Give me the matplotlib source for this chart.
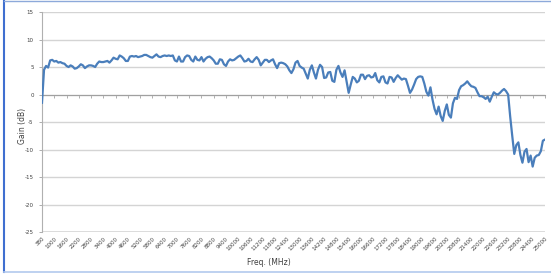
import matplotlib
matplotlib.use("Agg")
import matplotlib.pyplot as plt
from matplotlib.lines import Line2D

# frequency categories (MHz): first point 380, then 500..25000 in 100 MHz steps
freqs = [380] + list(range(500, 25001, 100))

# gain readings (dB), one per frequency
gain = [
    -1.5, 4.5, 5.2, 4.9, 6.2, 6.3, 6.0, 6.1, 5.8, 5.9,
    5.7, 5.6, 5.2, 5.0, 5.3, 5.1, 4.7, 4.8, 5.1, 5.5,
    5.3, 4.8, 5.1, 5.3, 5.3, 5.2, 5.0, 5.6, 6.0, 5.9,
    5.9, 6.0, 6.1, 5.8, 6.2, 6.7, 6.5, 6.4, 7.1, 6.9,
    6.6, 6.1, 6.1, 6.9, 7.0, 6.9, 7.0, 6.8, 6.9, 7.0,
    7.2, 7.2, 7.0, 6.8, 6.7, 7.0, 7.3, 6.9, 6.8, 7.0,
    7.1, 7.0, 7.1, 7.0, 7.1, 6.2, 6.0, 6.9, 6.0, 6.0,
    6.8, 7.1, 7.0, 6.3, 6.0, 6.9, 6.3, 6.2, 6.8, 6.0,
    6.5, 6.8, 6.9, 6.6, 6.2, 5.6, 5.6, 6.4, 6.3, 5.5,
    5.2, 6.0, 6.4, 6.2, 6.3, 6.6, 6.9, 7.1, 6.6, 6.0,
    6.1, 6.5, 6.0, 5.9, 6.4, 6.8, 6.3, 5.3, 5.8, 6.3,
    6.3, 5.9, 6.2, 6.4, 5.5, 4.8, 5.7, 5.8, 5.7, 5.5,
    5.1, 4.4, 3.9, 4.6, 5.8, 6.1, 5.2, 4.9, 4.7, 3.8,
    2.9, 4.5, 5.3, 4.0, 2.9, 4.5, 5.4, 5.0, 3.0, 3.1,
    4.0, 4.1, 2.5, 2.3, 4.5, 5.2, 4.0, 3.2, 4.4, 2.3,
    0.3, 1.8, 3.2, 2.9, 2.2, 2.5, 3.6, 3.6, 2.8, 3.4,
    3.5, 3.1, 3.2, 3.9, 2.6, 2.2, 3.2, 3.3, 2.2, 2.0,
    3.2, 3.1, 2.3, 3.0, 3.5, 3.1, 2.7, 2.9, 2.8, 1.6,
    0.3, 0.9, 1.8, 2.8, 3.2, 3.3, 3.2, 2.0, 0.5, -0.2,
    1.3, -0.9, -2.6, -3.6, -2.2, -3.9, -4.8, -3.0, -1.8, -3.7,
    -4.2, -1.6, -0.6, -0.8, 0.8, 1.5, 1.7, 2.0, 2.4, 1.9,
    1.5, 1.4, 1.2, 0.4, -0.3, -0.3, -0.5, -0.8, -0.4, -1.3,
    -0.4, 0.4, 0.1, 0.0, 0.3, 0.7, 1.0, 0.6, 0.0, -4.0,
    -7.5, -10.8, -9.2, -8.7, -11.0, -12.4, -10.4, -9.9, -12.3, -11.1,
    -13.1, -11.5, -11.1, -11.0, -10.3, -8.4, -8.2,
]

y_ticks = list(range(-25, 16, 5))
label_step = 6

idx = list(range(len(freqs)))

fig = plt.figure(figsize=(5.51, 2.8), dpi=100)
ax = fig.add_axes([0.0762, 0.1714, 0.9128, 0.7857])

ax.plot(idx, gain, color="#4a7ebb", lw=1.6, solid_joinstyle="round", zorder=3)

ax.set_xlim(0, len(freqs) - 1)
ax.set_ylim(-25, 15)
ax.set_yticks(y_ticks)
ax.set_yticklabels([str(v) for v in y_ticks], fontsize=4, color="#404040")
ax.yaxis.grid(True, color="#d4d4d4", lw=1.0)
ax.set_axisbelow(True)
ax.tick_params(axis="y", length=2, width=0.6, color="#a0a0a0", pad=4)

# category axis crosses at 0 with tick marks, labels sit at the bottom
ax.spines["bottom"].set_position(("data", 0))
ax.spines["bottom"].set_color("#a0a0a0")
ax.spines["bottom"].set_linewidth(0.8)
ax.spines["left"].set_color("#b0b0b0")
ax.spines["left"].set_linewidth(0.8)
ax.spines["top"].set_visible(False)
ax.spines["right"].set_visible(False)
ax.set_xticks(idx[::label_step])
ax.tick_params(axis="x", length=2.5, width=0.6, color="#a0a0a0", labelbottom=False)

ax.axhline(-25, color="#d9d9d9", lw=2.0, zorder=1)

sec = ax.secondary_xaxis(0)
sec.set_xticks(idx[::label_step])
sec.set_xticklabels([str(f) for f in freqs[::label_step]], rotation=45,
                    ha="right", va="top", fontsize=4, color="#404040",
                    rotation_mode="anchor")
sec.tick_params(axis="x", length=0, pad=3)
sec.spines["bottom"].set_visible(False)

ax.set_ylabel("Gain (dB)", fontsize=5.5, color="#404040")
ax.yaxis.set_label_coords(-0.03, 0.48)
fig.text(0.488, 0.053, "Freq. (MHz)", fontsize=5.5, color="#404040", ha="center")

# chart frame
fig.add_artist(Line2D([4 / 551, 4 / 551], [1 - 1 / 280, 8 / 280],
                      transform=fig.transFigure, color="#3f6fd0", lw=1.5))
fig.add_artist(Line2D([4 / 551, 1], [1 - 1 / 280, 1 - 1 / 280],
                      transform=fig.transFigure, color="#8da9da", lw=1.0))
fig.add_artist(Line2D([4 / 551, 1], [8 / 280, 8 / 280],
                      transform=fig.transFigure, color="#b3c9ee", lw=1.2))

fig.savefig("out.png", dpi=100)
